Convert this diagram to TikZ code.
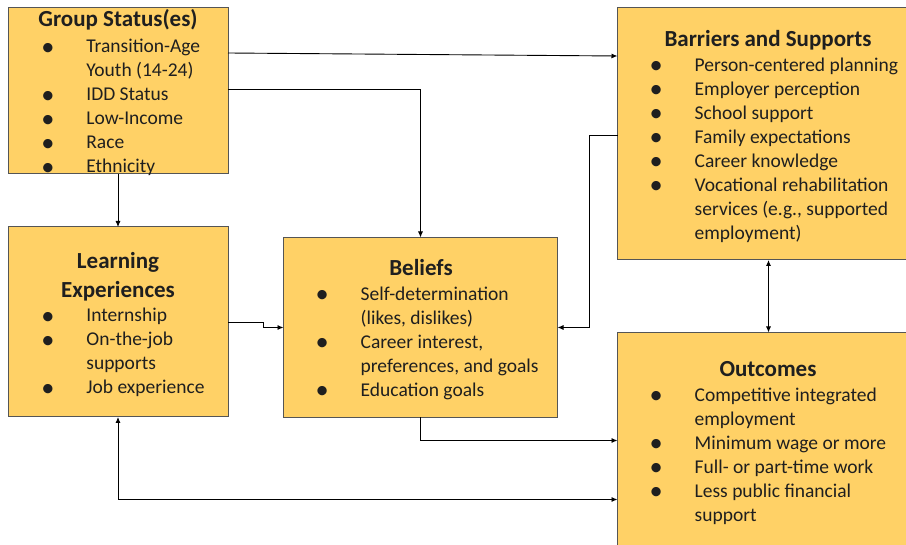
\documentclass[tikz,border=0pt]{standalone}
\usepackage{fontspec}
\usepackage{graphicx}
\setmainfont{Carlito}
\usetikzlibrary{arrows.meta}
\definecolor{boxfill}{HTML}{FFD166}
\definecolor{boxedge}{HTML}{555555}
\definecolor{ink}{HTML}{1F1F1F}
% bullet list: bullet column, fixed gap, text column
\newcommand\bl{\makebox[0pt]{\raisebox{-0.12em}{\scalebox{1.35}{\textbullet}}}}
\newenvironment{blist}{\begin{tabular}[t]{@{}l@{\hspace{38.5pt}}l@{}}}{\end{tabular}}

\begin{document}
\begin{tikzpicture}[x=1pt,y=-1pt,
  box/.style={draw=boxedge, line width=1pt, fill=boxfill, anchor=north west, inner sep=0pt, outer sep=0pt},
  ttl/.style={anchor=base, inner sep=0pt, font=\fontsize{23}{28}\selectfont\bfseries, text=ink},
  items/.style={anchor=base west, inner sep=0pt, font=\fontsize{19.5}{24}\selectfont, text=ink},
  conn/.style={line width=0.9pt, draw=black},
  arr/.style={conn, -{Latex[length=6pt,width=5pt]}},
  dbl/.style={conn, {Latex[length=6pt,width=5pt]}-{Latex[length=6pt,width=5pt]}}]

\useasboundingbox (0,0) rectangle (906,545);
\clip (0,0) rectangle (906,545);

% boxes
\node[box, minimum width=220pt, minimum height=166pt] (gs) at (8,8) {};
\node[box, minimum width=220pt, minimum height=190pt] (le) at (8,227) {};
\node[box, minimum width=274pt, minimum height=180pt] (bel) at (283.5,237.5) {};
\node[box, minimum width=302pt, minimum height=252pt] (bs) at (617.5,8) {};
\node[box, minimum width=302pt, minimum height=230pt] (out) at (617.5,332.5) {};

% Group Status(es)
\node[ttl] (gs-title) at (118,27) {Group Status(es)};
\node[items] (gs-items) at (47.7,52.7) {\begin{blist}
\bl & Transition-Age\\ & Youth (14-24)\\ \bl & IDD Status\\ \bl & Low-Income\\ \bl & Race\\ \bl & Ethnicity
\end{blist}};

% Barriers and Supports
\node[ttl] (bs-title) at (768,46.5) {Barriers and Supports};
\node[items] (bs-items) at (656,71.5) {\begin{blist}
\bl & Person-centered planning\\ \bl & Employer perception\\ \bl & School support\\ \bl & Family expectations\\ \bl & Career knowledge\\ \bl & Vocational rehabilitation\\ & services (e.g., supported\\ & employment)
\end{blist}};

% Learning Experiences
\node[ttl] (le-title1) at (118,268.8) {Learning};
\node[ttl] (le-title2) at (118,297.2) {Experiences};
\node[items] (le-items) at (47.7,321.7) {\begin{blist}
\bl & Internship\\ \bl & On-the-job\\ & supports\\ \bl & Job experience
\end{blist}};

% Beliefs
\node[ttl] (bel-title) at (421,275.5) {Beliefs};
\node[items] (bel-items) at (322,300.5) {\begin{blist}
\bl & Self-determination\\ & (likes, dislikes)\\ \bl & Career interest,\\ & preferences, and goals\\ \bl & Education goals
\end{blist}};

% Outcomes
\node[ttl] (out-title) at (768,376.5) {Outcomes};
\node[items] (out-items) at (656,401.5) {\begin{blist}
\bl & Competitive integrated\\ & employment\\ \bl & Minimum wage or more\\ \bl & Full- or part-time work\\ \bl & Less public financial\\ & support
\end{blist}};

% connectors
\draw[arr] ([yshift=-45pt]gs.north east) -- ([yshift=-48pt]bs.north west);
\draw[arr] ([yshift=-81pt]gs.north east) -| (bel.north);
\draw[arr] (gs.south) -- (le.north);
\draw[arr] (le.east) -- ++(35,0) |- (bel.west);
\draw[arr] ([yshift=-127pt]bs.north west) -- ++(-28.5,0) |- (bel.east);
\draw[dbl] (bs.south) -- (out.north);
\draw[arr] (bel.south) |- ([yshift=-108pt]out.north west);
\draw[dbl] (le.south) |- ([yshift=-167pt]out.north west);
\end{tikzpicture}
\end{document}
